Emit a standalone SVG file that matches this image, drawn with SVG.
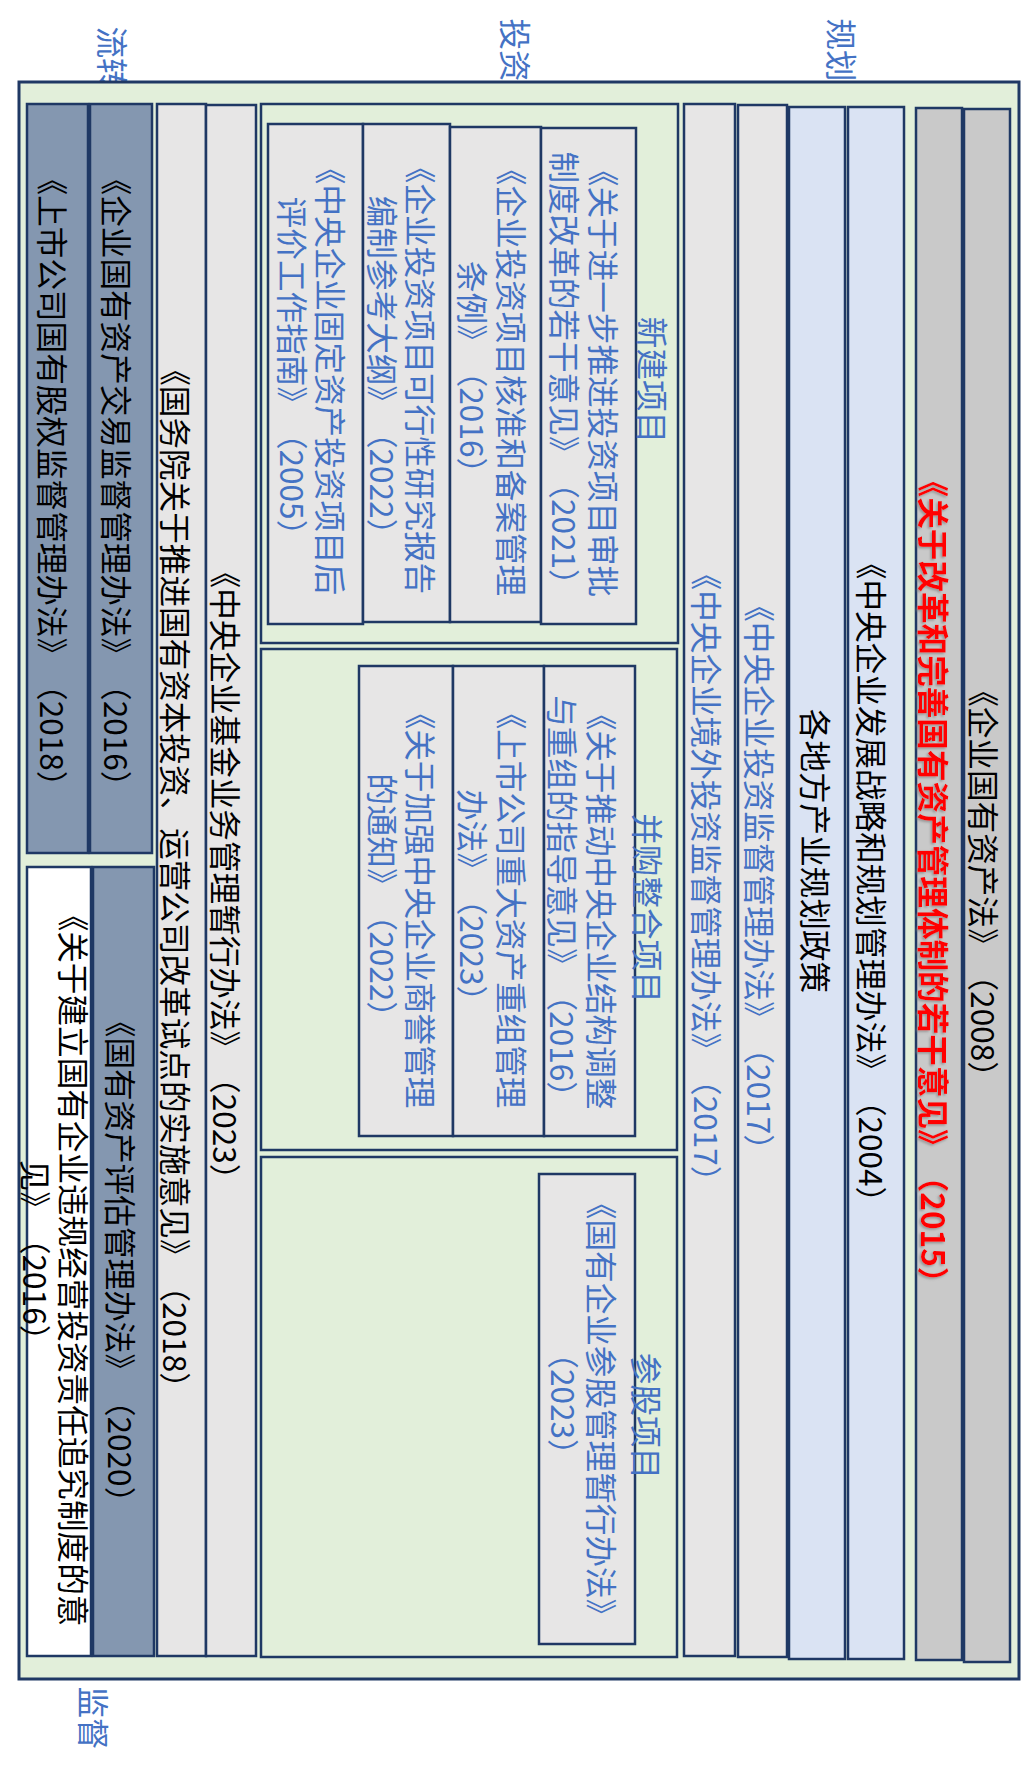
<svg xmlns="http://www.w3.org/2000/svg" width="1022" height="1789" viewBox="0 0 1022 1789">
<style>
.b{stroke:#1F3864;stroke-width:2.5}
.g{fill:#E2EFDA}
.lg{fill:#E7E6E6}
.lb{fill:#DAE3F3}
.gr{fill:#C9C9C9}
.dk{fill:#8497B0}
.wh{fill:#FFFFFF}
text{font-family:"Noto Sans CJK SC","Noto Sans",sans-serif;font-size:31.6px;dominant-baseline:central;text-anchor:middle;text-spacing-trim:space-all;font-feature-settings:"chws" 0,"halt" 0}
.k{fill:#000000}
.u{fill:#4472C4}
.r{fill:#FF0000;font-weight:bold}
</style>
<defs>
<filter id="sh" x="-5%" y="-20%" width="110%" height="140%">
<feDropShadow dx="1.5" dy="1.5" stdDeviation="0.8" flood-color="#7F7F7F" flood-opacity="0.7"/>
</filter>
</defs>
<rect width="1022" height="1789" fill="#FFFFFF"/>

<g id="labels">
<text class="u" transform="translate(114,58) rotate(90)">流转</text>
<text class="u" transform="translate(517,50) rotate(90)">投资</text>
<text class="u" transform="translate(843,50) rotate(90)">规划</text>
<text class="u" transform="translate(95,1718) rotate(90)">监督</text>
</g>

<g id="frame">
<rect class="g b" x="19" y="82" width="1000" height="1597" style="stroke-width:3"/>
</g>

<g id="connectors"></g>

<g id="col-a-upper">
<rect class="dk b" x="27" y="104" width="61" height="749"/>
<text class="k" transform="translate(54,483) rotate(90)">《上市公司国有股权监督管理办法》（2018）</text>
</g>
<g id="col-b-upper">
<rect class="dk b" x="90" y="104" width="62" height="749"/>
<text class="k" transform="translate(118,483) rotate(90)">《企业国有资产交易监督管理办法》（2016）</text>
</g>
<g id="col-a-lower">
<rect class="wh b" x="27" y="867" width="64" height="789"/>
<text class="k" transform="translate(75,1263) rotate(90)">《关于建立国有企业违规经营投资责任追究制度的意</text>
<text class="k" transform="translate(37,1258) rotate(90)">见》（2016）</text>
</g>
<g id="col-b-lower">
<rect class="dk b" x="93" y="867" width="61" height="789"/>
<text class="k" transform="translate(122,1262) rotate(90)">《国有资产评估管理办法》（2020）</text>
</g>
<g id="col-c">
<rect class="lg b" x="157" y="104" width="49" height="1552"/>
<text class="k" transform="translate(177,879) rotate(90)">《国务院关于推进国有资本投资、运营公司改革试点的实施意见》（2018）</text>
</g>
<g id="col-d">
<rect class="lg b" x="206" y="105" width="50" height="1551"/>
<text class="k" transform="translate(227,876) rotate(90)">《中央企业基金业务管理暂行办法》（2023）</text>
</g>

<g id="box-new">
<rect class="g b" x="261" y="104" width="417" height="539"/>
<g id="card-n1">
<rect class="lg b" x="268" y="124" width="95" height="500"/>
<text class="u" transform="translate(332,374) rotate(90)">《中央企业固定资产投资项目后</text>
<text class="u" transform="translate(294,374) rotate(90)">评价工作指南》（2005）</text>
</g>
<g id="card-n2">
<rect class="lg b" x="363" y="124" width="87" height="498"/>
<text class="u" transform="translate(422,373) rotate(90)">《企业投资项目可行性研究报告</text>
<text class="u" transform="translate(384,373) rotate(90)">编制参考大纲》（2022）</text>
</g>
<g id="card-n3">
<rect class="lg b" x="450" y="127" width="91" height="495"/>
<text class="u" transform="translate(513,375) rotate(90)">《企业投资项目核准和备案管理</text>
<text class="u" transform="translate(474,375) rotate(90)">条例》（2016）</text>
</g>
<g id="card-n4">
<rect class="lg b" x="541" y="128" width="95" height="496"/>
<text class="u" transform="translate(605,376) rotate(90)">《关于进一步推进投资项目审批</text>
<text class="u" transform="translate(566,376) rotate(90)">制度改革的若干意见》（2021）</text>
</g>
<text class="u" transform="translate(654,380) rotate(90)">新建项目</text>
</g>

<g id="box-merge">
<rect class="g b" x="261" y="649" width="416" height="501"/>
<g id="card-m1">
<rect class="lg b" x="359" y="666" width="94" height="470"/>
<text class="u" transform="translate(422,903) rotate(90)">《关于加强中央企业商誉管理</text>
<text class="u" transform="translate(384,903) rotate(90)">的通知》（2022）</text>
</g>
<g id="card-m2">
<rect class="lg b" x="453" y="666" width="91" height="470"/>
<text class="u" transform="translate(513,903) rotate(90)">《上市公司重大资产重组管理</text>
<text class="u" transform="translate(474,903) rotate(90)">办法》（2023）</text>
</g>
<g id="card-m3">
<rect class="lg b" x="544" y="666" width="91" height="470"/>
<text class="u" transform="translate(603,904) rotate(90)">《关于推动中央企业结构调整</text>
<text class="u" transform="translate(564,904) rotate(90)">与重组的指导意见》（2016）</text>
</g>
<text class="u" transform="translate(649,908) rotate(90)">并购整合项目</text>
</g>

<g id="box-stake">
<rect class="g b" x="261" y="1157" width="416" height="500"/>
<g id="card-s1">
<rect class="lg b" x="539" y="1174" width="96" height="470"/>
<text class="u" transform="translate(603,1409) rotate(90)">《国有企业参股管理暂行办法》</text>
<text class="u" transform="translate(565,1404) rotate(90)">（2023）</text>
</g>
<text class="u" transform="translate(648,1416) rotate(90)">参股项目</text>
</g>

<g id="col-e">
<rect class="lg b" x="684" y="104" width="51" height="1552"/>
<text class="u" transform="translate(708,878) rotate(90)">《中央企业境外投资监督管理办法》（2017）</text>
</g>
<g id="col-f">
<rect class="lg b" x="738" y="105" width="49" height="1552"/>
<text class="u" transform="translate(761,878) rotate(90)">《中央企业投资监督管理办法》（2017）</text>
</g>
<g id="col-g">
<rect class="lb b" x="789" y="107" width="56" height="1552"/>
<text class="k" transform="translate(817,851) rotate(90)">各地方产业规划政策</text>
</g>
<g id="col-h">
<rect class="lb b" x="848" y="107" width="56" height="1552"/>
<text class="k" transform="translate(873,883) rotate(90)">《中央企业发展战略和规划管理办法》（2004）</text>
</g>
<g id="col-i">
<rect class="gr b" x="916" y="108" width="46" height="1552"/>
<text class="r" filter="url(#sh)" transform="translate(935,882) rotate(90)">《关于改革和完善国有资产管理体制的若干意见》（2015）</text>
</g>
<g id="col-j">
<rect class="gr b" x="964" y="109" width="46" height="1553"/>
<text class="k" transform="translate(985,884) rotate(90)">《企业国有资产法》（2008）</text>
</g>
</svg>
